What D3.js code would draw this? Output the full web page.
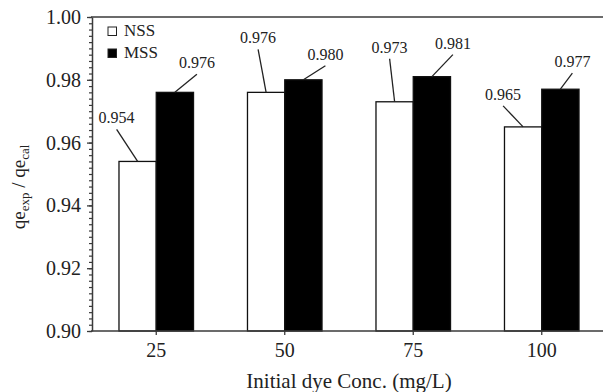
<!DOCTYPE html>
<html>
<head>
<meta charset="utf-8">
<script src="https://cdn.jsdelivr.net/npm/d3@7"></script>
<style>
  body { margin: 0; background: #fff; }
  svg { display: block; font-family: 'Liberation Serif', 'Times New Roman', serif; }
</style>
</head>
<body>
<div id="myPlot"></div>
<script>
// data
const categories = ['25', '50', '75', '100'];
const seriesNames = ['NSS', 'MSS'];
const nssValues = [0.954, 0.976, 0.973, 0.965];
const mssValues = [0.976, 0.980, 0.981, 0.977];
const yTicks = [0.90, 0.92, 0.94, 0.96, 0.98, 1.00];

// where each value label sits, relative to its bar top (layout only)
const nssLabelDx = [-21, -8, -5, -20];
const nssLabelDy = [-38, -49, -49, -27];
const mssLabelDx = [22, 22, 21, 12];
const mssLabelDy = [-24, -20, -28, -22];

const width = 603;
const height = 392;
const margin = {top: 17, right: -3, bottom: 61, left: 92};
const axisColor = '#3a3a3a';
const textColor = '#222';
const serif = 'Liberation Serif, Times New Roman, serif';

const svg = d3.select('#myPlot')
  .append('svg')
    .attr('width', width)
    .attr('height', height);

const x0 = d3.scaleBand()
  .domain(categories)
  .range([margin.left, width - margin.right])
  .paddingInner(0.42)
  .paddingOuter(0.21);

const x1 = d3.scaleBand()
  .domain(seriesNames)
  .range([0, x0.bandwidth()]);

const y = d3.scaleLinear()
  .domain([0.90, 1.00])
  .range([height - margin.bottom, margin.top]);

const table = [];
categories.forEach((c, i) => {
  table.push({cat: c, series: 'NSS', value: nssValues[i], dx: nssLabelDx[i], dy: nssLabelDy[i]});
  table.push({cat: c, series: 'MSS', value: mssValues[i], dx: mssLabelDx[i], dy: mssLabelDy[i]});
});

// top frame line
svg.append('line')
  .attr('x1', margin.left - 1)
  .attr('x2', width - margin.right)
  .attr('y1', y(1.00))
  .attr('y2', y(1.00))
  .attr('stroke', axisColor)
  .attr('stroke-width', 1.5);

// bars
svg.selectAll('rect.bar')
  .data(table)
  .enter()
  .append('rect')
    .attr('class', 'bar')
    .attr('x', d => x0(d.cat) + x1(d.series))
    .attr('y', d => y(d.value))
    .attr('width', x1.bandwidth())
    .attr('height', d => y(0.90) - y(d.value))
    .attr('fill', d => d.series === 'MSS' ? '#000' : '#fff')
    .attr('stroke', '#111')
    .attr('stroke-width', 1.3);

// minor ticks on y
svg.append('g')
  .attr('transform', 'translate(' + margin.left + ',0)')
  .call(d3.axisLeft(y).tickValues(d3.range(0, 51).map(k => 0.90 + k * 0.002)).tickSize(3).tickFormat(''))
  .call(g => g.select('.domain').remove())
  .selectAll('line').attr('stroke', axisColor).attr('stroke-width', 1.2);

// y axis
const yAxis = svg.append('g')
  .attr('transform', 'translate(' + margin.left + ',0)')
  .call(d3.axisLeft(y).tickValues(yTicks).tickFormat(d3.format('.2f')).tickSize(5).tickPadding(6).tickSizeOuter(0));
yAxis.select('.domain').attr('stroke', axisColor).attr('stroke-width', 1.5);
yAxis.selectAll('line').attr('stroke', axisColor).attr('stroke-width', 1.3);
yAxis.selectAll('text').attr('fill', textColor).style('font-size', '20px').style('font-family', serif);

// x axis
const xAxis = svg.append('g')
  .attr('transform', 'translate(0,' + y(0.90) + ')')
  .call(d3.axisBottom(x0).tickSize(4).tickPadding(8).tickSizeOuter(0));
xAxis.select('.domain').attr('stroke', axisColor).attr('stroke-width', 1.5)
  .attr('d', 'M' + (margin.left - 1) + ',0H' + (width - margin.right));
xAxis.selectAll('line').attr('stroke', axisColor).attr('stroke-width', 1.3);
xAxis.selectAll('text').attr('fill', textColor).style('font-size', '20px').style('font-family', serif);

// value labels with leader lines
const barMid = d => x0(d.cat) + x1(d.series) + x1.bandwidth() / 2;

svg.selectAll('line.leader')
  .data(table)
  .enter()
  .append('line')
    .attr('class', 'leader')
    .attr('x1', d => barMid(d) + d.dx)
    .attr('y1', d => y(d.value) + d.dy + 6)
    .attr('x2', d => barMid(d))
    .attr('y2', d => y(d.value))
    .attr('stroke', '#222')
    .attr('stroke-width', 1.3);

svg.selectAll('text.val')
  .data(table)
  .enter()
  .append('text')
    .attr('class', 'val')
    .attr('x', d => barMid(d) + d.dx)
    .attr('y', d => y(d.value) + d.dy)
    .attr('text-anchor', 'middle')
    .attr('fill', textColor)
    .style('font-size', '16px')
    .text(d => d3.format('.3f')(d.value));

// legend
const legend = svg.append('g')
  .attr('transform', 'translate(108,27)');
seriesNames.forEach((s, i) => {
  legend.append('rect')
    .attr('x', 0)
    .attr('y', i * 22)
    .attr('width', 8.5)
    .attr('height', 8.5)
    .attr('fill', s === 'MSS' ? '#000' : '#fff')
    .attr('stroke', '#222')
    .attr('stroke-width', 1);
  legend.append('text')
    .attr('x', 16)
    .attr('y', i * 22 + 8.5)
    .attr('fill', textColor)
    .style('font-size', '17px')
    .text(s);
});

// axis titles
svg.append('text')
  .attr('x', (margin.left + width - margin.right) / 2)
  .attr('y', 388)
  .attr('text-anchor', 'middle')
  .attr('fill', textColor)
  .style('font-size', '21px')
  .text('Initial dye Conc. (mg/L)');

const yTitle = svg.append('text')
  .attr('transform', 'translate(25,187) rotate(-90)')
  .attr('text-anchor', 'middle')
  .attr('fill', textColor)
  .style('font-size', '19px');
yTitle.append('tspan').text('qe');
yTitle.append('tspan').attr('dy', 4).style('font-size', '13px').text('exp');
yTitle.append('tspan').attr('dy', -4).text(' / qe');
yTitle.append('tspan').attr('dy', 4).style('font-size', '13px').text('cal');
</script>
</body>
</html>
